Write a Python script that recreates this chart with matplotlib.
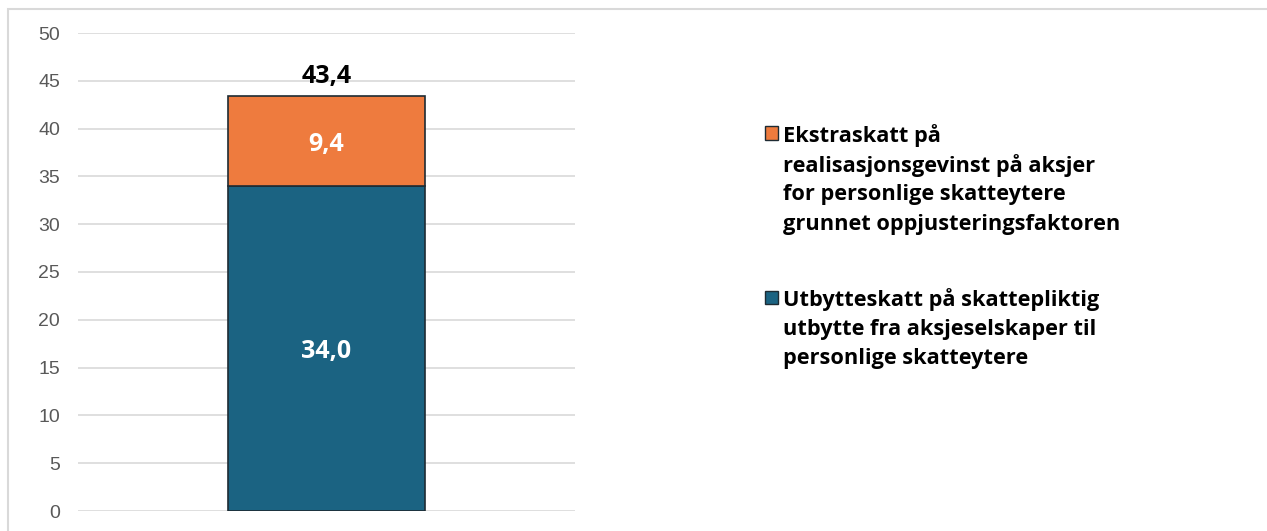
import matplotlib.pyplot as plt
from matplotlib.patches import Rectangle

# data
categories = [""]
utbytte = [34.0]
ekstra = [9.4]
total = [43.4]
legend_labels = [
    ["Ekstraskatt på", "realisasjonsgevinst på aksjer",
     "for personlige skatteytere", "grunnet oppjusteringsfaktoren"],
    ["Utbytteskatt på skattepliktig", "utbytte fra aksjeselskaper til",
     "personlige skatteytere"],
]
yticks = [0, 5, 10, 15, 20, 25, 30, 35, 40, 45, 50]

blue = "#1b6382"
orange = "#ee7b3e"
edge = "#1e2b33"

plt.rcParams['font.family'] = ['Open Sans', 'DejaVu Sans']

fig = plt.figure(figsize=(12.67, 5.31), dpi=100)
ax = fig.add_axes([78 / 1267, 20 / 531, 497 / 1267, 478 / 531])

x = range(len(categories))
ax.bar(x, utbytte, width=0.398, color=blue, edgecolor=edge, linewidth=1.2, zorder=3)
ax.bar(x, ekstra, bottom=utbytte, width=0.398, color=orange, edgecolor=edge,
       linewidth=1.2, zorder=3)

for i in x:
    ax.text(i, utbytte[i] / 2, f"{utbytte[i]:.1f}".replace(".", ","), ha="center",
            va="center_baseline", color="white", fontsize=18, fontweight="bold", zorder=4)
    ax.text(i, utbytte[i] + ekstra[i] / 2, f"{ekstra[i]:.1f}".replace(".", ","),
            ha="center", va="center_baseline", color="white", fontsize=18,
            fontweight="bold", zorder=4)
    ax.text(i, total[i] + 2.4, f"{total[i]:.1f}".replace(".", ","), ha="center",
            va="center_baseline", color="black", fontsize=18, fontweight="bold", zorder=4)

ax.set_xlim(-0.5, 0.5)
ax.set_ylim(0, 50)
ax.set_yticks(yticks)
ax.set_xticks([])
ax.yaxis.grid(True, color="#d9d9d9", linewidth=1.2, zorder=0)
ax.tick_params(axis="y", length=0, pad=13, labelsize=14, labelcolor="#595959")
for lbl in ax.get_yticklabels():
    lbl.set_family("Liberation Sans")
for s in ax.spines.values():
    s.set_visible(False)

# legend drawn by hand so the marker sits on the first line
leg_y = [133, 297]
line_h = 29.7
leg_colors = [orange, blue]
for yy, lines, col in zip(leg_y, legend_labels, leg_colors):
    fig.patches.append(Rectangle((765 / 1267, 1 - (yy + 6.5) / 531), 13 / 1267, 13 / 531,
                                 transform=fig.transFigure, facecolor=col,
                                 edgecolor=edge, linewidth=1))
    for k, line in enumerate(lines):
        fig.text(783 / 1267, 1 - (yy + k * line_h) / 531, line, ha="left",
                 va="center_baseline", fontsize=15.7, fontweight="bold", color="black")

# outer border
fig.patches.append(Rectangle((8 / 1267, -0.05), 1.1, 1 - 9 / 531 + 0.05,
                             transform=fig.transFigure, fill=False,
                             edgecolor="#d9d9d9", linewidth=1.5))

fig.savefig("out.png", dpi=100)
